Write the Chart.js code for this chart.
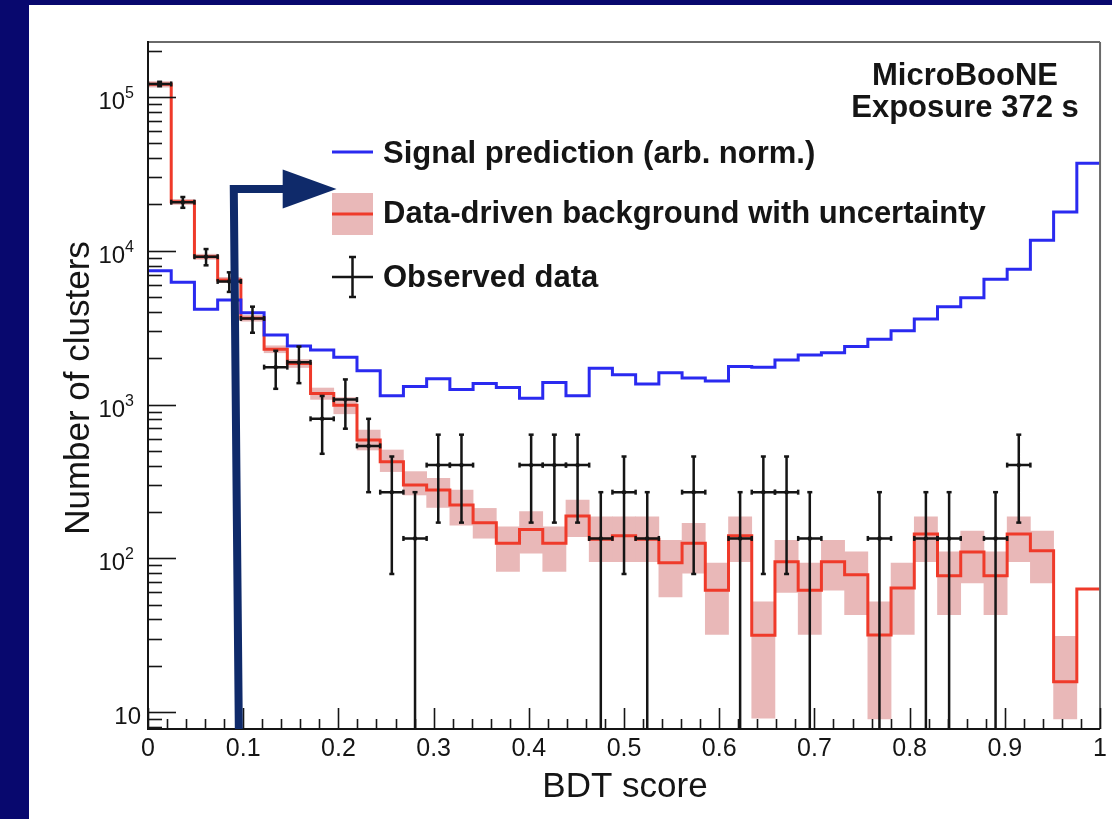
<!DOCTYPE html>
<html>
<head>
<meta charset="utf-8">
<script src="https://cdn.jsdelivr.net/npm/chart.js@4.4.1/dist/chart.umd.min.js"></script>
<style>
  html, body { margin: 0; padding: 0; background: #08086e; overflow: hidden; }
  #panel { position: absolute; left: 29px; top: 5px; right: 0; bottom: 0; background: #ffffff; }
  #wrap { position: absolute; left: 0; top: 0; width: 1112px; height: 819px; }
</style>
</head>
<body>
<div id="panel"></div>
<div id="wrap"><canvas id="bdt" width="1112" height="819"></canvas></div>
<script>
// BDT score histograms, 41 equal bins between 0 and 1
const signalPred = [7410, 6240, 4160, 4790, 3950, 2830, 2400, 2260, 2030, 1660,
  1140, 1310, 1470, 1250, 1370, 1290, 1100, 1390, 1140, 1720,
  1560, 1360, 1610, 1490, 1420, 1770, 1750, 1950, 2100, 2170,
  2380, 2660, 3020, 3600, 4330, 4950, 6520, 7570, 11700, 17900, 37100];

const bkgPred = [121000, 20800, 9150, 6460, 3640, 2290, 1850, 1180, 990, 588,
  425, 299, 278, 222, 170, 125, 154, 125, 188, 133,
  140, 133, 93.5, 125, 62, 140, 31.5, 95, 62, 95,
  78, 31.7, 64, 144, 77, 110, 77, 144, 112, 15.7, 63];

// uncertainty band edges of the background
const bkgLow = [116000, 20000, 8800, 6200, 3480, 2170, 1740, 1080, 870, 506,
  366, 258, 214, 164, 135, 82, 108, 82, 138, 95,
  95, 95, 56, 80, 32, 95, 9.1, 60, 32, 62,
  43, 9, 32, 95, 43, 69, 43, 95, 69, 9, 63];
const bkgHigh = [126000, 21600, 9500, 6720, 3800, 2410, 1960, 1280, 1110, 682,
  506, 366, 331, 278, 211, 160, 201, 160, 239, 186,
  186, 186, 131, 169, 93, 186, 52, 131, 93, 131,
  110, 52, 93, 186, 110, 150, 110, 186, 150, 31, 63];

// observed data (null = empty bin) and its error
const obsData = [121600, 20700, 9150, 6320, 3630, 1750, 1880, 807, 1076, 538,
  269, 134.5, 403.5, 403.5, null, null, 403.5, 403.5, 403.5, 134.5,
  269, 134.5, null, 269, null, 134.5, 269, 269, 134.5, null,
  null, 134.5, null, 134.5, 134.5, null, 134.5, 403.5, null, null, null];
const obsErr = [4040, 1670, 1110, 920, 700, 485, 503, 329, 380, 269,
  190, 134.5, 233, 233, null, null, 233, 233, 233, 134.5,
  190, 134.5, null, 190, null, 134.5, 190, 190, 134.5, null,
  null, 134.5, null, 134.5, 134.5, null, 134.5, 233, null, null, null];

const xTickLabels = ['0', '0.1', '0.2', '0.3', '0.4', '0.5', '0.6', '0.7', '0.8', '0.9', '1'];
const yDecades = [10, 100, 1000, 10000, 100000];

const Y_MIN = 7.75;
const Y_MAX = 2.28e5;

// cut arrow, in axis units
const ARROW_X_BOTTOM = 0.0954;
const ARROW_X_TOP = 0.0901;
const ARROW_Y_TOP = 25200;
const ARROW_HEAD_BASE = 0.1415;
const ARROW_HEAD_TIP = 0.198;

const FONT = '"Liberation Sans", Arial, Helvetica, sans-serif';
const RED = '#ef3a2a';
const BLUE = '#2a2af0';
const PINK = '#e9b8b8';
const INK = '#151515';
const NAVY = '#0f2a6a';

const nBins = signalPred.length;
const binW = 1 / nBins;
const edge = i => i * binW;

// step outline: one point per left edge plus the closing right edge
function histLine(vals) {
  const pts = vals.map((v, i) => ({ x: edge(i), y: v }));
  pts.push({ x: 1, y: vals[vals.length - 1] });
  return pts;
}

const bandData = [];
bkgLow.forEach((lo, i) => {
  if (lo < bkgHigh[i]) bandData.push({ x: edge(i) + binW / 2, y: [lo, bkgHigh[i]] });
});

const errV = [], errH = [], centres = [];
obsData.forEach((v, i) => {
  if (v === null) return;
  const c = edge(i) + binW / 2;
  errV.push({ x: c, y: Math.max(v - obsErr[i], Y_MIN) }, { x: c, y: v + obsErr[i] }, { x: c, y: null });
  errH.push({ x: edge(i), y: v }, { x: edge(i + 1), y: v }, { x: c, y: null });
  centres.push({ x: c, y: v });
});

function line(ctx, x1, y1, x2, y2) {
  ctx.beginPath();
  ctx.moveTo(x1, y1);
  ctx.lineTo(x2, y2);
  ctx.stroke();
}

// ROOT style frame, inside ticks, labels, legend and the cut arrow
const rootDecor = {
  id: 'rootDecor',
  afterDatasetsDraw(chart) {
    const { ctx, chartArea: a, scales: { x, y } } = chart;
    ctx.save();

    // frame
    ctx.lineWidth = 2;
    ctx.strokeStyle = '#6a6a6a';
    line(ctx, a.left, a.top, a.right, a.top);
    line(ctx, a.right, a.top, a.right, a.bottom);
    ctx.strokeStyle = INK;
    line(ctx, a.left, a.top - 1, a.left, a.bottom + 1);
    line(ctx, a.left - 1, a.bottom, a.right, a.bottom);

    // y ticks
    ctx.lineWidth = 1.6;
    for (let e = 0; e <= 5; e++) {
      for (let m = 1; m <= 9; m++) {
        const v = m * Math.pow(10, e);
        if (v < Y_MIN || v > Y_MAX) continue;
        const py = Math.round(y.getPixelForValue(v)) + 0.5;
        line(ctx, a.left, py, a.left + (m === 1 ? 28 : 14), py);
      }
    }
    // x ticks
    for (let k = 0; k <= 50; k++) {
      const px = Math.round(x.getPixelForValue(k / 50)) + 0.5;
      line(ctx, px, a.bottom, px, a.bottom - (k % 5 === 0 ? 21 : 10));
    }

    // y labels, 10^n
    ctx.fillStyle = INK;
    ctx.textBaseline = 'alphabetic';
    ctx.textAlign = 'right';
    yDecades.forEach(v => {
      const py = y.getPixelForValue(v);
      const exp = Math.round(Math.log10(v));
      if (exp === 1) {
        ctx.font = '24px ' + FONT;
        ctx.fillText('10', 141, py + 12);
      } else {
        ctx.font = '16px ' + FONT;
        ctx.fillText(String(exp), 134, py + 1);
        const ew = ctx.measureText(String(exp)).width;
        ctx.font = '24px ' + FONT;
        ctx.fillText('10', 134 - ew, py + 12);
      }
    });

    // axis titles
    ctx.font = '35px ' + FONT;
    ctx.textAlign = 'center';
    ctx.fillText('BDT score', 625, 797);
    ctx.save();
    ctx.translate(89, 388);
    ctx.rotate(-Math.PI / 2);
    ctx.fillText('Number of clusters', 0, 0);
    ctx.restore();

    // legend
    ctx.font = 'bold 31px ' + FONT;
    ctx.textAlign = 'left';
    ctx.lineWidth = 3;
    ctx.strokeStyle = BLUE;
    line(ctx, 332, 152, 373, 152);
    ctx.fillText('Signal prediction (arb. norm.)', 383, 163);

    ctx.fillStyle = PINK;
    ctx.fillRect(332, 193, 41, 42);
    ctx.strokeStyle = RED;
    line(ctx, 332, 214, 373, 214);
    ctx.fillStyle = INK;
    ctx.fillText('Data-driven background with uncertainty', 383, 223);

    ctx.strokeStyle = INK;
    ctx.lineWidth = 2.5;
    line(ctx, 352.5, 257, 352.5, 297);
    line(ctx, 332, 277, 373, 277);
    line(ctx, 349, 257, 356, 257);
    line(ctx, 349, 297, 356, 297);
    ctx.fillText('Observed data', 383, 287);

    // experiment label
    ctx.textAlign = 'center';
    ctx.fillText('MicroBooNE', 965, 85);
    ctx.fillText('Exposure 372 s', 965, 117);

    // cut arrow
    const bx = x.getPixelForValue(ARROW_X_BOTTOM);
    const tx = x.getPixelForValue(ARROW_X_TOP);
    const ty = y.getPixelForValue(ARROW_Y_TOP);
    const hb = x.getPixelForValue(ARROW_HEAD_BASE);
    const tip = x.getPixelForValue(ARROW_HEAD_TIP);
    ctx.strokeStyle = NAVY;
    ctx.fillStyle = NAVY;
    ctx.lineWidth = 8;
    ctx.lineJoin = 'miter';
    ctx.beginPath();
    ctx.moveTo(bx, a.bottom);
    ctx.lineTo(tx, ty);
    ctx.lineTo(hb + 2, ty);
    ctx.stroke();
    ctx.beginPath();
    ctx.moveTo(hb, ty - 19.5);
    ctx.lineTo(tip, ty);
    ctx.lineTo(hb, ty + 19.5);
    ctx.closePath();
    ctx.fill();

    ctx.restore();
  }
};

const capRadius = ctx => (ctx.raw && ctx.raw.y > Y_MIN ? 2.5 : 0);

new Chart(document.getElementById('bdt'), {
  type: 'line',
  data: {
    datasets: [
      {
        type: 'bar',
        label: 'Background uncertainty',
        data: bandData,
        backgroundColor: PINK,
        borderWidth: 0,
        barPercentage: 1,
        categoryPercentage: 1,
        order: 6
      },
      {
        label: 'Data-driven background with uncertainty',
        data: histLine(bkgPred),
        stepped: true,
        borderColor: RED,
        borderWidth: 3,
        pointRadius: 0,
        fill: false,
        order: 5
      },
      {
        label: 'Signal prediction (arb. norm.)',
        data: histLine(signalPred),
        stepped: true,
        borderColor: BLUE,
        borderWidth: 3,
        pointRadius: 0,
        fill: false,
        order: 4
      },
      {
        label: 'x errors',
        data: errH,
        borderColor: INK,
        borderWidth: 2.5,
        spanGaps: false,
        pointStyle: 'line',
        pointRotation: 90,
        pointRadius: 2.5,
        pointBorderWidth: 2.5,
        pointBorderColor: INK,
        order: 3
      },
      {
        label: 'y errors',
        data: errV,
        borderColor: INK,
        borderWidth: 2.5,
        spanGaps: false,
        pointStyle: 'line',
        pointRadius: capRadius,
        pointBorderWidth: 2.5,
        pointBorderColor: INK,
        order: 2
      },
      {
        label: 'Observed data',
        data: centres,
        showLine: false,
        pointStyle: 'circle',
        pointRadius: 2.2,
        pointBackgroundColor: INK,
        pointBorderWidth: 0,
        order: 1
      }
    ]
  },
  options: {
    responsive: false,
    animation: false,
    devicePixelRatio: 1,
    layout: { padding: { left: 0, top: 42, right: 10, bottom: 0 } },
    plugins: { legend: { display: false }, tooltip: { enabled: false } },
    scales: {
      x: {
        type: 'linear',
        min: 0,
        max: 1,
        offset: false,
        grid: { display: false, drawTicks: false },
        border: { display: false },
        ticks: {
          stepSize: 0.1,
          autoSkip: false,
          maxRotation: 0,
          padding: 5,
          color: INK,
          font: { family: FONT, size: 25 },
          callback: (v, i) => xTickLabels[i]
        },
        afterFit: s => { s.height = 90; }
      },
      y: {
        type: 'logarithmic',
        min: Y_MIN,
        max: Y_MAX,
        grid: { display: false, drawTicks: false },
        border: { display: false },
        ticks: { display: false },
        afterFit: s => { s.width = 148; }
      }
    }
  },
  plugins: [rootDecor]
});
</script>
</body>
</html>
